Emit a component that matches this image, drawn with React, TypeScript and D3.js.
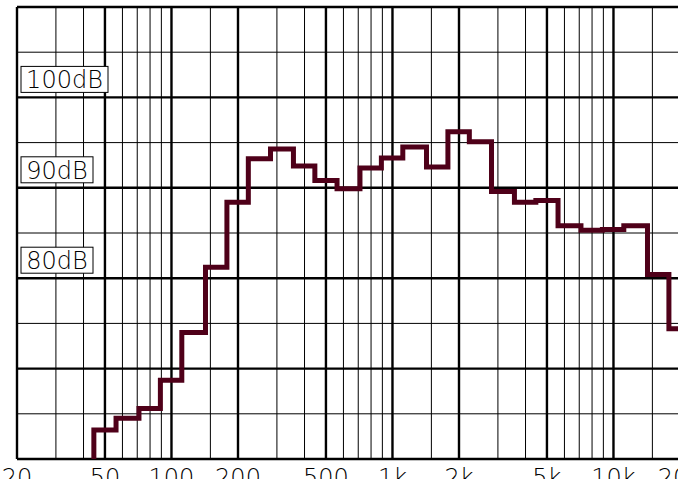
import * as d3 from 'd3';

// 1/3-octave band centres (Hz) and measured level (dB)
const bandCenters = [50, 63, 80, 100, 125, 160, 200, 250, 315, 400, 500, 630, 800, 1000, 1250, 1600, 2000, 2500, 3150, 4000, 5000, 6300, 8000, 10000, 12500, 16000, 20000];
const bandLevels = [63.2, 64.5, 65.6, 68.7, 74.0, 81.2, 88.4, 93.2, 94.3, 92.4, 90.8, 89.9, 92.2, 93.3, 94.5, 92.3, 96.2, 95.1, 89.6, 88.4, 88.6, 85.8, 85.3, 85.4, 85.8, 80.4, 74.4];

const gridFreqs = [20, 30, 40, 50, 60, 70, 80, 90, 100, 150, 200, 300, 400, 500, 600, 700, 800, 900, 1000, 1500, 2000, 3000, 4000, 5000, 6000, 7000, 8000, 9000, 10000, 15000, 20000];
const majorFreqs = [20, 50, 100, 200, 500, 1000, 2000, 5000, 10000, 20000];
const freqLabels = ['20', '50', '100', '200', '500', '1k', '2k', '5k', '10k', '20k'];

const gridLevels = [60, 65, 70, 75, 80, 85, 90, 95, 100, 105, 110];
const dbLabels = [100, 90, 80];

const W = 678;
const H = 479;
const FONT = '"DejaVu Sans", sans-serif';

export default function App() {
  const x = d3.scaleLog().domain([20, 20000]).range([17, 680]);
  const y = d3.scaleLinear().domain([60, 110]).range([459, 7]);

  // step line: each band drawn flat from its lower to its upper edge
  const third = Math.pow(2, 1 / 6);
  const pts: [number, number][] = [[bandCenters[0] / third, 60]];
  bandCenters.forEach((c, i) => pts.push([c / third, bandLevels[i]]));
  pts.push([bandCenters[bandCenters.length - 1] * third, bandLevels[bandLevels.length - 1]]);

  const line = d3.line<[number, number]>()
    .x(d => x(d[0]))
    .y(d => y(d[1]))
    .curve(d3.curveStepAfter);

  return (
    <svg width={W} height={H} style={{ position: 'absolute', left: 0, top: 0, background: '#fff' }}>
      {/* vertical grid */}
      {gridFreqs.map(f => {
        const major = majorFreqs.includes(f);
        return (
          <line key={'v' + f} x1={x(f)} x2={x(f)} y1={y(110)} y2={y(60)}
            stroke="#000" strokeWidth={major ? 2.4 : 1} />
        );
      })}
      {/* horizontal grid */}
      {gridLevels.map(v => {
        const major = v % 10 === 0;
        return (
          <line key={'h' + v} x1={x(20)} x2={W} y1={y(v)} y2={y(v)}
            stroke="#000" strokeWidth={major ? 2.4 : 1} />
        );
      })}

      <path d={line(pts) ?? ''} fill="none" stroke="#4f0019" strokeWidth={5} strokeLinejoin="miter" strokeLinecap="butt" />

      {/* level labels */}
      {dbLabels.map(v => {
        const label = v + 'dB';
        const w = label.length === 5 ? 87 : 72;
        return (
          <g key={'l' + v}>
            <rect x={21} y={y(v) - 31} width={w} height={26} fill="#fff" stroke="#000" strokeWidth={1} />
            <text x={21 + w / 2} y={y(v) - 9} textAnchor="middle" fontFamily={FONT} fontWeight={200} fontSize={24} fill="#000">{label}</text>
          </g>
        );
      })}

      {/* frequency labels */}
      {majorFreqs.map((f, i) => (
        <text key={'f' + f} x={x(f)} y={485.5} textAnchor="middle" fontFamily={FONT} fontWeight={200} fontSize={24} fill="#000">{freqLabels[i]}</text>
      ))}
    </svg>
  );
}
